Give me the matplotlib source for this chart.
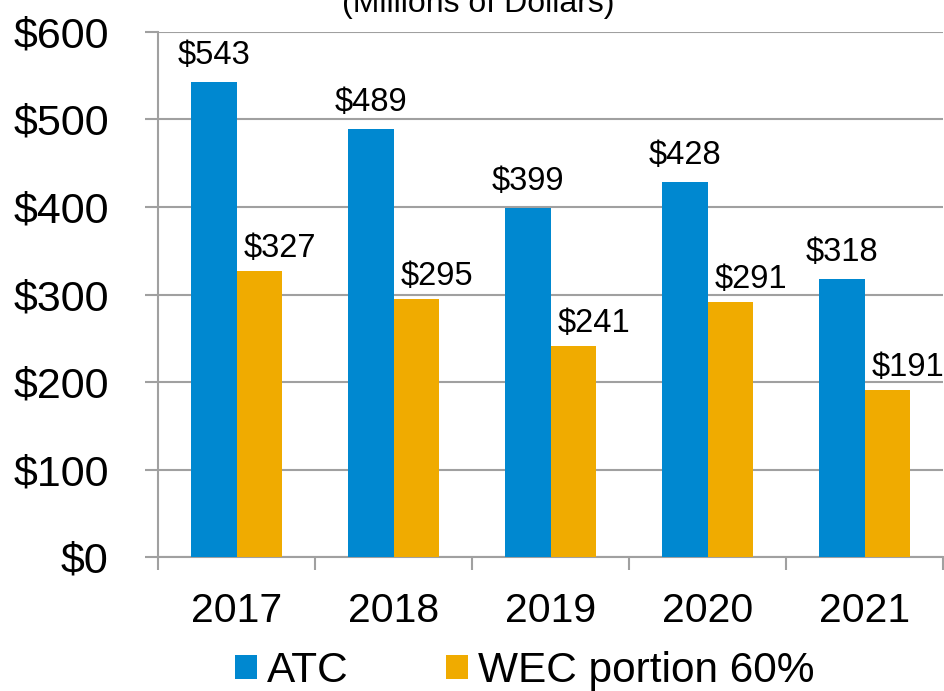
import matplotlib
matplotlib.use("Agg")
import matplotlib.pyplot as plt
from matplotlib.patches import Patch
import numpy as np

plt.rcParams['font.family'] = ['Liberation Sans', 'DejaVu Sans']

years = ['2017', '2018', '2019', '2020', '2021']
atc = [543, 489, 399, 428, 318]
wec = [327, 295, 241, 291, 191]
y_ticks = [0, 100, 200, 300, 400, 500, 600]

blue = '#0088D0'
gold = '#F0AB00'
grey = '#A0A0A0'

fig = plt.figure(figsize=(9.45, 6.91), dpi=100)
ax = fig.add_axes([0.1672, 0.1939, 0.9979 - 0.1672, 0.9537 - 0.1939])

x = np.arange(len(years))
w = 0.287
b1 = ax.bar(x - w / 2, atc, w, color=blue, edgecolor='none', zorder=3)
b2 = ax.bar(x + w / 2, wec, w, color=gold, edgecolor='none', zorder=3)

# value labels: ATC centred over the bar, WEC nudged to the right
for bars, vals, off in ((b1, atc, (0, 13)), (b2, wec, (15, 10))):
    for r, v in zip(bars, vals):
        ax.annotate('$%d' % v, (r.get_x() + r.get_width() / 2, v),
                    xytext=off, textcoords='offset points',
                    ha='center', va='baseline', fontsize=23.5,
                    annotation_clip=False, clip_on=False)

ax.set_xlim(-0.5, len(years) - 0.5)
ax.set_ylim(0, 600)
ax.set_yticks(y_ticks)
ax.set_yticklabels(['$%d' % t for t in y_ticks], fontsize=31)
ax.yaxis.grid(True, color=grey, linewidth=1.5, zorder=0)
ax.set_axisbelow(True)

ax.set_xticks(x)
ax.set_xticklabels(years, fontsize=29.5)
ax.set_xticks(np.arange(len(years) + 1) - 0.5, minor=True)
ax.tick_params(axis='x', which='major', length=0, pad=25)
ax.tick_params(axis='x', which='minor', length=9.4, width=1.5, color=grey)
ax.tick_params(axis='y', length=9.4, width=1.5, color=grey, pad=26)

for s in ('top', 'right'):
    ax.spines[s].set_visible(False)
for s in ('left', 'bottom'):
    ax.spines[s].set_color(grey)
    ax.spines[s].set_linewidth(1.5)

fig.text(0.506, 0.982, '(Millions of Dollars)', ha='center', va='baseline',
         fontsize=23)

handles = [Patch(facecolor=blue, label='ATC'),
           Patch(facecolor=gold, label='WEC portion 60%')]
fig.legend(handles=handles, loc='lower center', bbox_to_anchor=(0.555, -0.055),
           ncol=2, frameon=False, fontsize=30.5, handlelength=0.52,
           handleheight=0.52, handletextpad=0.24, columnspacing=2.29)

fig.savefig('out.png', dpi=100)
